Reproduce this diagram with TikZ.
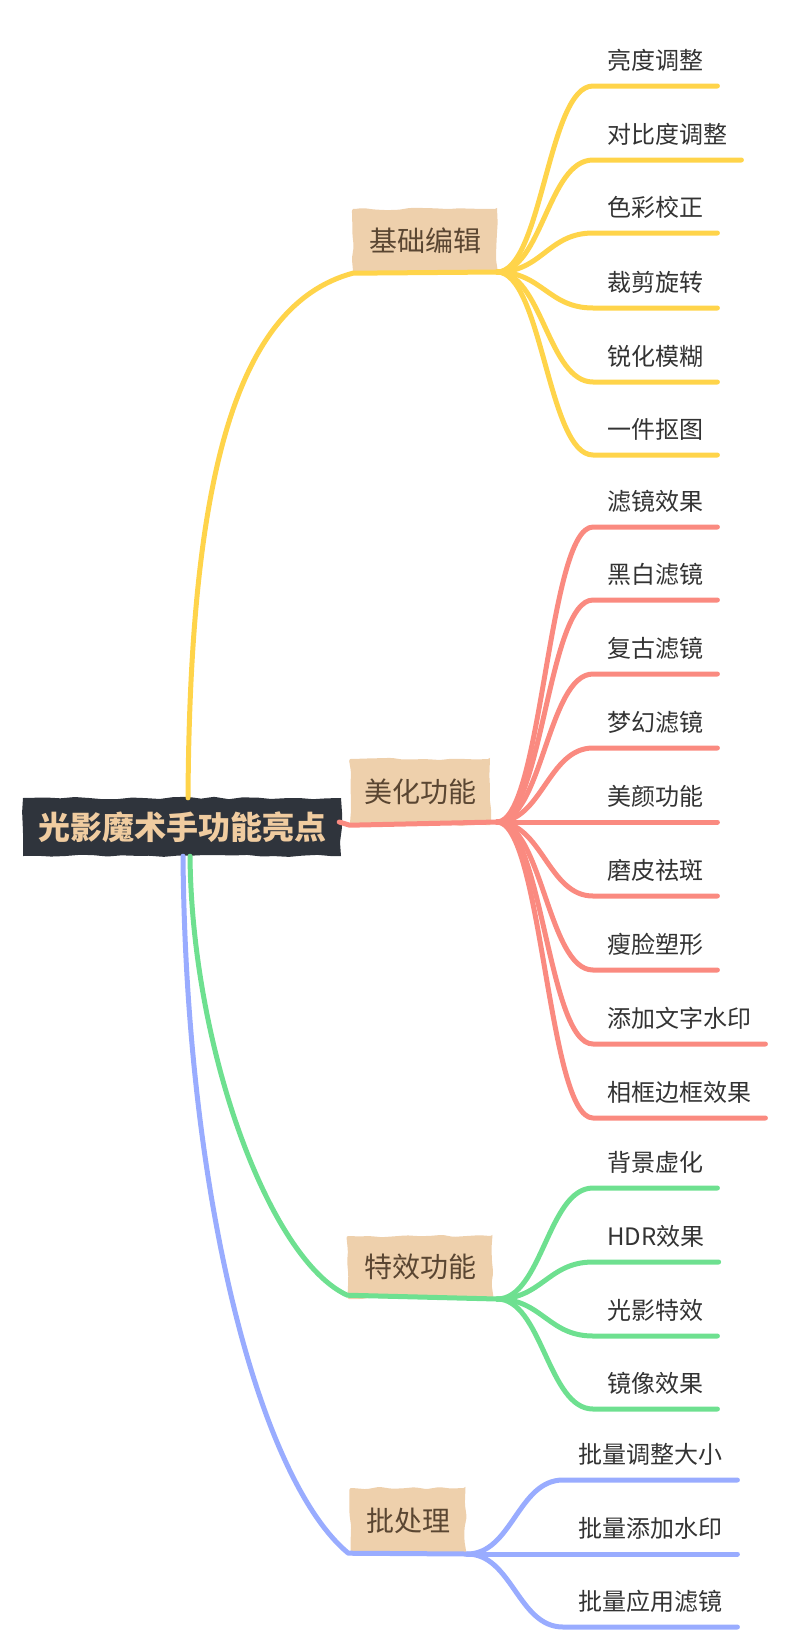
\documentclass[tikz,border=0pt]{standalone}
\usepackage{fontspec}
\newfontfamily\cjk{Noto Sans CJK SC}
\usetikzlibrary{calc,decorations.pathmorphing}
\definecolor{cy}{RGB}{255,212,74}
\definecolor{cr}{RGB}{250,138,128}
\definecolor{cg}{RGB}{110,224,144}
\definecolor{cb}{RGB}{153,172,255}
\definecolor{boxc}{RGB}{238,208,172}
\definecolor{rootc}{RGB}{47,52,60}
\definecolor{roottext}{RGB}{240,204,160}
\definecolor{brtext}{RGB}{90,70,50}
\definecolor{leaftext}{RGB}{51,51,51}
\begin{document}
\pgfmathsetseed{7}
\begin{tikzpicture}[x=1pt,y=-1pt,
  rootbox/.style={fill=rootc, text=roottext, font=\cjk\bfseries\fontsize{32}{32}\selectfont,
    minimum width=318pt, minimum height=58pt, inner sep=0pt,
    decorate, decoration={random steps, segment length=14pt, amplitude=1.2pt}},
  branch/.style={fill=boxc, text=brtext, font=\cjk\fontsize{28}{28}\selectfont, inner sep=0pt,
    decorate, decoration={random steps, segment length=12pt, amplitude=1.2pt}, rounded corners=2pt},
  leaf/.style={text=leaftext, font=\cjk\fontsize{24}{24}\selectfont, anchor=south west,
    inner xsep=14pt, inner ysep=16pt, text depth=0pt, text height=17pt},
  conn/.style={line width=5pt, line cap=round, line join=round}]
\useasboundingbox (0,0) rectangle (790,1652);

% root and branches
\node[rootbox] (root) at (182,827) {光影魔术手功能亮点};
\node[branch, minimum width=144pt, minimum height=64pt] (b1) at (425,241) {基础编辑};
\node[branch, minimum width=140pt, minimum height=66pt] (b2) at (420,792) {美化功能};
\node[branch, minimum width=145pt, minimum height=62pt] (b3) at (420,1267) {特效功能};
\node[branch, minimum width=115pt, minimum height=66pt] (b4) at (408,1521) {批处理};

\coordinate (j1) at (497,272);
\coordinate (j2) at (497,822);
\coordinate (j3) at (497,1299);
\coordinate (j4) at (467,1554);

% root to branches
\draw[conn, cy] ($(root.north)+(6,0)$) .. controls (190,480) and (235,305) .. (b1.south west) -- (j1);
\draw[conn, cr] ($(root.east)+(-2,-5)$) -- (b2.south west) -- (j2);
\draw[conn, cg] ($(root.south)+(8,0)$) .. controls (192,1050) and (270,1260) .. ($(b3.south west)+(0,-3)$) -- (j3);
\draw[conn, cb] ($(root.south)+(1,0)$) .. controls (186,1200) and (260,1480) .. ($(b4.south west)+(-2,-1)$) -- (j4);

% leaves of 基础编辑
\foreach \yl/\t [count=\i] in {86/亮度调整,160/对比度调整,233/色彩校正,308/裁剪旋转,382/锐化模糊,455/一件抠图}{
  \node[leaf] (a\i) at (593,\yl) {\t};
  \draw[conn, cy] (j1) .. controls ($(j1)+(45,0)$) and (548,\yl) .. (a\i.south west) -- (a\i.south east);
}
% leaves of 美化功能
\foreach \yl/\t [count=\i] in {527/滤镜效果,600/黑白滤镜,674/复古滤镜,748/梦幻滤镜,822/美颜功能,896/磨皮祛斑,970/瘦脸塑形,1044/添加文字水印,1118/相框边框效果}{
  \node[leaf] (m\i) at (593,\yl) {\t};
  \draw[conn, cr] (j2) .. controls ($(j2)+(45,0)$) and (548,\yl) .. (m\i.south west) -- (m\i.south east);
}
% leaves of 特效功能
\foreach \yl/\t [count=\i] in {1188/背景虚化,1262/HDR效果,1336/光影特效,1409/镜像效果}{
  \node[leaf] (t\i) at (593,\yl) {\t};
  \draw[conn, cg] (j3) .. controls ($(j3)+(45,0)$) and (548,\yl) .. (t\i.south west) -- (t\i.south east);
}
% leaves of 批处理
\foreach \yl/\t [count=\i] in {1480/批量调整大小,1554/批量添加水印,1627/批量应用滤镜}{
  \node[leaf, inner xsep=15pt] (p\i) at (563,\yl) {\t};
  \draw[conn, cb] (j4) .. controls ($(j4)+(45,0)$) and (518,\yl) .. (p\i.south west) -- (p\i.south east);
}
\end{tikzpicture}
\end{document}
